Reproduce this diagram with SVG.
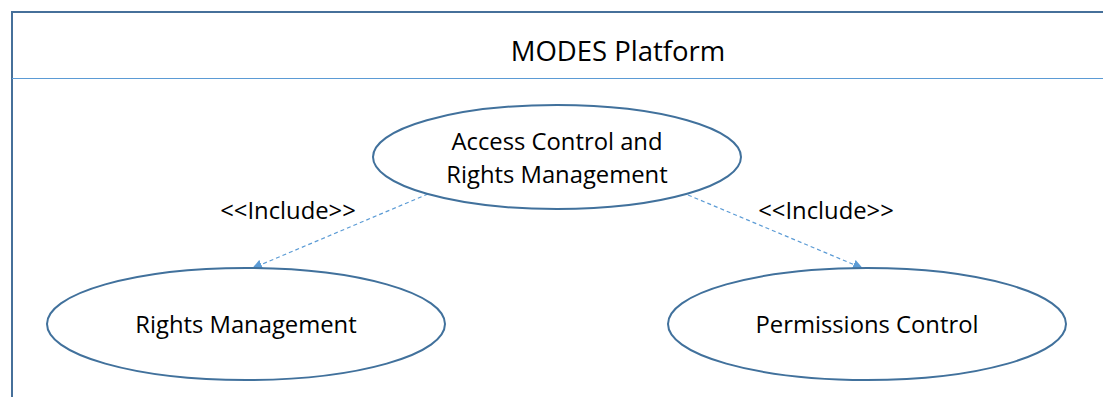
<svg xmlns="http://www.w3.org/2000/svg" width="1103" height="397" viewBox="0 0 1103 397">
<style>
.uc{fill:#fff;stroke:#41719c;stroke-width:2}
.t{font-family:"Open Sans","Liberation Sans",sans-serif;font-size:23.8px;fill:#000;text-anchor:middle}
.c{stroke:#5b9bd5;stroke-width:1.2;stroke-dasharray:4 3;fill:none}
</style>
<defs>
<marker id="ah" markerWidth="10" markerHeight="10" refX="9" refY="5" orient="auto" markerUnits="userSpaceOnUse">
<path d="M0,0 L10,5 L0,10 z" fill="#5b9bd5"/>
</marker>
</defs>
<g id="frame">
<rect x="12" y="12" width="1100" height="400" fill="#fff" stroke="#46709a" stroke-width="2"/>
<line x1="12" y1="78.5" x2="1103" y2="78.5" stroke="#5b9bd5" stroke-width="1.2"/>
<text class="t" x="618" y="61" style="font-size:27.5px">MODES Platform</text>
</g>
<g id="connectors">
<line class="c" x1="428" y1="194" x2="253" y2="268" marker-end="url(#ah)"/>
<line class="c" x1="688" y1="195" x2="862" y2="268" marker-end="url(#ah)"/>
<text class="t" x="288" y="219">&lt;&lt;Include&gt;&gt;</text>
<text class="t" x="826" y="219">&lt;&lt;Include&gt;&gt;</text>
</g>
<g id="access">
<ellipse class="uc" cx="557" cy="157" rx="184" ry="52"/>
<text class="t" x="557" y="150">Access Control and</text>
<text class="t" x="557" y="183">Rights Management</text>
</g>
<g id="rights">
<ellipse class="uc" cx="246" cy="324" rx="199" ry="56"/>
<text class="t" x="246" y="333">Rights Management</text>
</g>
<g id="permissions">
<ellipse class="uc" cx="867" cy="324" rx="199" ry="56"/>
<text class="t" x="867" y="333">Permissions Control</text>
</g>
</svg>
